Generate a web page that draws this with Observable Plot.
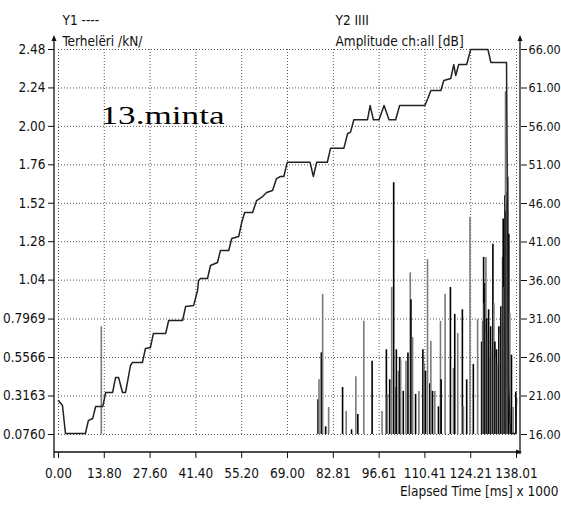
<!DOCTYPE html>
<html><head><meta charset="utf-8">
<script src="https://cdn.jsdelivr.net/npm/d3@7"></script>
<script src="https://cdn.jsdelivr.net/npm/@observablehq/plot@0.6"></script>
<style>
body{margin:0;background:#fff;}
#chart svg{font-family:"DejaVu Sans Condensed","DejaVu Sans",sans-serif;font-stretch:condensed;}
</style></head><body><div id="chart"></div>
<script>
// Y1: load (kN) vs elapsed time (ms x 1000)
const loadTime = [0, 1.2, 2.1, 8.1, 9.0, 10.3, 11.2, 13.3, 13.6, 14.2, 16.3, 17.2, 18.1, 19.3, 20.2, 21.7, 22.3, 25.3, 26.2, 27.7, 28.6, 32.3, 33.2, 37.4, 38.3, 40.7, 41.9, 42.2, 42.8, 44.9, 45.8, 47.9, 48.8, 51.3, 52.2, 54.3, 55.2, 56.1, 58.5, 59.7, 61.5, 62.7, 64.5, 65.7, 66.9, 67.9, 68.8, 69.0, 75.8, 76.8, 77.8, 81.0, 82.0, 86.0, 87.1, 88.0, 89.0, 93.1, 93.9, 94.9, 96.6, 98.1, 99.6, 101.6, 102.8, 110.4, 111.3, 112.2, 115.2, 116.1, 118.2, 119.1, 119.7, 120.6, 123.0, 124.2, 129.4, 130.3, 134.5, 135.0, 135.6, 136.2, 137.8, 138.01];
const loadKN = [0.288, 0.257, 0.082, 0.082, 0.163, 0.176, 0.251, 0.251, 0.276, 0.338, 0.338, 0.432, 0.432, 0.338, 0.338, 0.507, 0.526, 0.526, 0.613, 0.619, 0.707, 0.707, 0.788, 0.788, 0.875, 0.881, 0.975, 1.038, 1.050, 1.050, 1.131, 1.150, 1.225, 1.225, 1.300, 1.312, 1.400, 1.462, 1.462, 1.537, 1.562, 1.587, 1.600, 1.674, 1.687, 1.687, 1.766, 1.776, 1.776, 1.687, 1.776, 1.776, 1.864, 1.864, 1.954, 1.964, 2.041, 2.041, 2.130, 2.041, 2.041, 2.130, 2.041, 2.041, 2.130, 2.130, 2.174, 2.224, 2.224, 2.286, 2.299, 2.386, 2.318, 2.386, 2.386, 2.480, 2.480, 2.399, 2.399, 2.399, 0.400, 0.082, 0.082, 0.300];

// Y2: hit amplitude (dB) vs elapsed time
const ampTime = [12.9, 78.2, 78.5, 79.2, 79.6, 80.5, 81.4, 85.6, 86.7, 88.3, 89.6, 90.2, 92.0, 94.5, 97.5, 98.8, 99.1, 99.8, 100.4, 101.0, 101.5, 101.8, 102.4, 102.8, 103.1, 103.9, 104.7, 105.3, 106.0, 106.2, 106.7, 107.6, 108.6, 109.8, 110.2, 110.6, 111.2, 111.9, 112.2, 112.7, 113.4, 114.5, 115.1, 115.3, 116.5, 118.1, 119.0, 119.4, 120.3, 121.7, 122.0, 123.0, 124.0, 125.0, 126.3, 127.5, 127.8, 128.1, 128.3, 128.5, 128.8, 129.0, 129.3, 129.6, 130.0, 130.2, 130.5, 130.9, 131.2, 131.5, 131.8, 132.0, 132.3, 132.7, 133.0, 133.3, 133.8, 134.0, 134.3, 134.5, 134.7, 134.9, 135.1, 135.3, 135.5, 135.7, 136.0, 136.5, 137.0, 137.8];
const ampDB = [30.0, 20.5, 23.1, 26.6, 34.2, 17.0, 19.5, 22.1, 19.0, 16.6, 23.5, 18.6, 30.7, 25.5, 19.0, 27.0, 21.2, 23.1, 35.1, 48.7, 22.1, 27.0, 24.2, 26.0, 25.7, 21.6, 25.5, 26.6, 37.0, 33.5, 28.6, 21.2, 21.6, 27.0, 25.2, 24.2, 38.7, 22.6, 28.1, 21.6, 21.6, 19.6, 30.7, 23.1, 34.2, 35.1, 24.6, 31.6, 29.1, 32.2, 19.6, 23.1, 44.2, 25.1, 30.9, 28.0, 30.7, 39.0, 33.0, 35.6, 39.0, 31.0, 29.1, 32.2, 26.0, 30.0, 27.0, 40.7, 33.0, 28.0, 26.0, 27.0, 25.1, 30.0, 29.0, 32.6, 39.0, 44.0, 35.1, 47.0, 60.5, 45.0, 47.4, 46.0, 49.4, 42.0, 31.7, 26.3, 19.5, 21.5];

const xTicks = [0, 13.80, 27.60, 41.40, 55.20, 69.00, 82.81, 96.61, 110.41, 124.21, 138.01];
const xTickLabels = ["0.00","13.80","27.60","41.40","55.20","69.00","82.81","96.61","110.41","124.21","138.01"];
const yTicks = [0.0760, 0.3163, 0.5566, 0.7969, 1.04, 1.28, 1.52, 1.76, 2.00, 2.24, 2.48];
const yTickLabels = ["0.0760","0.3163","0.5566","0.7969","1.04","1.28","1.52","1.76","2.00","2.24","2.48"];
const y2Ticks = [16, 21, 26, 31, 36, 41, 46, 51, 56, 61, 66];
const y2TickLabels = ["16.00","21.00","26.00","31.00","36.00","41.00","46.00","51.00","56.00","61.00","66.00"];

const yMin = 0.076, yMax = 2.48, dbMin = 16, dbMax = 66;
const dbToY = db => yMin + (db - dbMin) / (dbMax - dbMin) * (yMax - yMin);

const load = loadTime.map((t, i) => ({t, v: loadKN[i]}));
const amp = ampTime.map((t, i) => ({t, db: ampDB[i]}));
const y2Pos = y2Ticks.map(dbToY);

const dotted = {stroke: "#555", strokeOpacity: 1, strokeWidth: 1, strokeDasharray: "1,2"};
const fs = 13.5;

const chart = Plot.plot({
  width: 561, height: 505,
  marginLeft: 58, marginRight: 45, marginTop: 49, marginBottom: 71,
  x: {domain: [0, 138.01], label: null, axis: null},
  y: {domain: [yMin, yMax], label: null, axis: null},
  color: {type: "identity"},
  style: {fontSize: fs + "px", background: "#fff", color: "#111"},
  marks: [
    Plot.ruleX(xTicks, {...dotted}),
    Plot.ruleY(yTicks, {...dotted}),
    Plot.ruleX(amp, {x: "t", y1: yMin, y2: d => dbToY(d.db), stroke: (d, i) => i % 2 ? "#000" : "#7a7a7a", strokeWidth: 1.6}),
    Plot.line(load, {x: "t", y: "v", stroke: "#222", strokeWidth: 1.5}),
    Plot.axisY(yTicks, {anchor: "left", tickSize: 6, tickPadding: 3, dx: -4, tickFormat: d => yTickLabels[yTicks.indexOf(d)], stroke: "#111", fill: "#111", fontSize: fs}),
    Plot.axisY(y2Pos, {anchor: "right", tickSize: 6, tickPadding: 2, dx: 4, tickFormat: d => y2TickLabels[y2Pos.indexOf(d)], stroke: "#111", fill: "#111", fontSize: 12.5}),
    Plot.axisX(xTicks, {anchor: "bottom", tickSize: 6, tickPadding: 10, dy: 18, tickFormat: d => xTickLabels[xTicks.indexOf(d)], stroke: "#111", fill: "#111", fontSize: fs}),
    Plot.text(["Y1 ----"], {frameAnchor: "top-left", dx: 4, dy: -34, textAnchor: "start", fill: "#111", fontSize: fs}),
    Plot.text(["Terhelëri /kN/"], {frameAnchor: "top-left", dx: 4, dy: -13, textAnchor: "start", fill: "#111", fontSize: fs}),
    Plot.text(["Y2 IIII"], {frameAnchor: "top", dx: 48, dy: -34, textAnchor: "start", fill: "#111", fontSize: fs}),
    Plot.text(["Amplitude ch:all [dB]"], {frameAnchor: "top", dx: 48, dy: -13, textAnchor: "start", fill: "#111", fontSize: fs}),
    Plot.text(["Elapsed Time [ms] x 1000"], {frameAnchor: "bottom-right", dx: 42, dy: 61, textAnchor: "end", fill: "#111", fontSize: fs}),
    Plot.text(["13.minta"], {frameAnchor: "top-left", dx: 42, dy: 57, textAnchor: "start", fill: "#000", fontSize: 25, fontFamily: "Liberation Serif, Times New Roman, serif", className: "minta"})
  ]
});
document.getElementById("chart").appendChild(chart);

// stretch the serif annotation horizontally as in the reference
d3.select(chart).selectAll(".minta text").attr("textLength", 124).attr("lengthAdjust", "spacingAndGlyphs");

// axis lines with arrowheads, offset from the frame as in the original
const sx = chart.scale("x"), sy = chart.scale("y");
const [x0, x1] = sx.range, [yb, yt] = sy.range;
const svg = d3.select(chart);
const g = svg.append("g").attr("stroke", "#111").attr("fill", "none").attr("stroke-width", 1.3);
g.append("path").attr("d", `M${x0-4},${yt-12}V${yb+24}`);
g.append("path").attr("d", `M${x0-4},${yb+18}H${x1+4}`);
g.append("path").attr("d", `M${x1+4},${yt-12}V${yb+20}`);
const a = svg.append("g").attr("fill", "#111");
a.append("path").attr("d", `M${x0-4},${yt-14}l-2.5,6h5z`);
a.append("path").attr("d", `M${x1+4},${yt-14}l-2.5,6h5z`);
a.append("path").attr("d", `M${x1+6},${yb+18}l-6,-2.5v5z`);
</script></body></html>
